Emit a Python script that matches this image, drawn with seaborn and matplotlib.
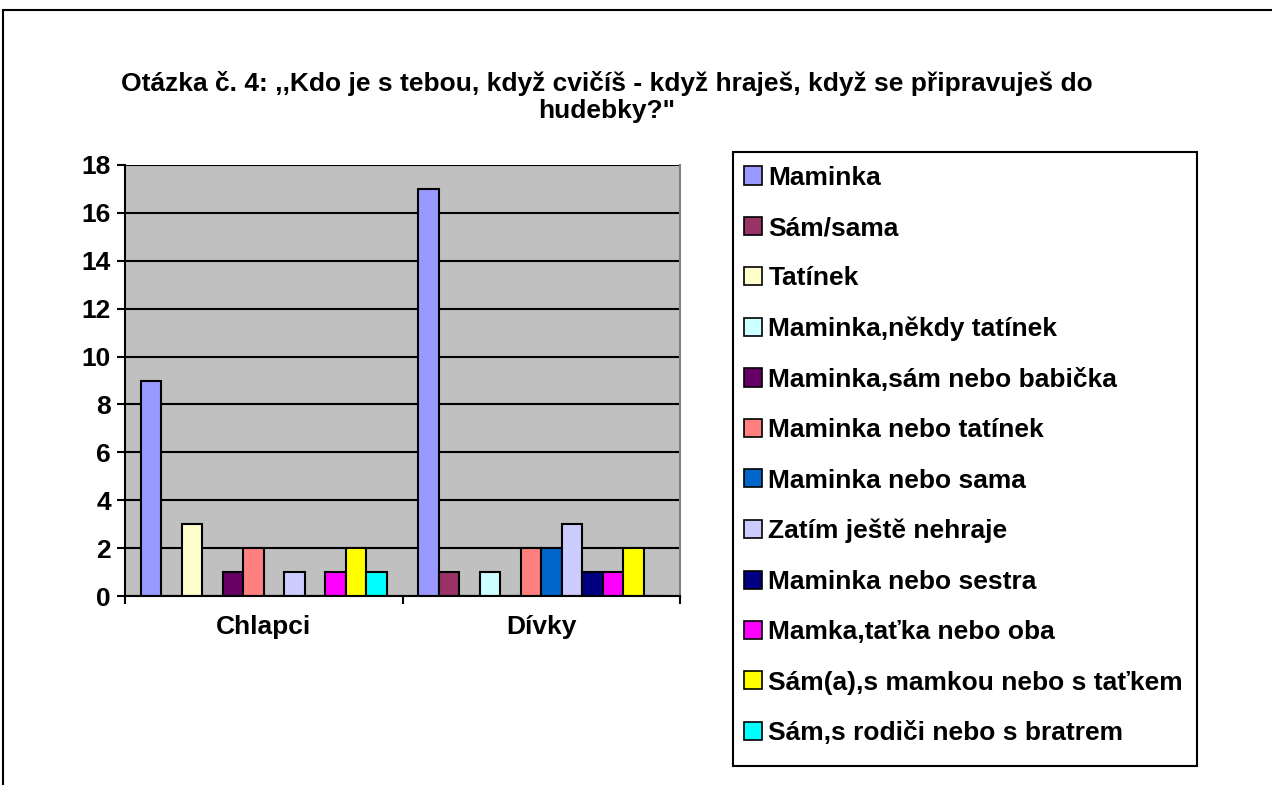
import matplotlib
matplotlib.use("Agg")
import matplotlib.pyplot as plt
import seaborn as sns
import pandas as pd
from matplotlib.patches import Rectangle, Patch

groups = ["Chlapci", "Dívky"]
series = ["Maminka", "Sám/sama", "Tatínek", "Maminka,někdy tatínek",
          "Maminka,sám nebo babička", "Maminka nebo tatínek", "Maminka nebo sama",
          "Zatím ještě nehraje", "Maminka nebo sestra", "Mamka,taťka nebo oba",
          "Sám(a),s mamkou nebo s taťkem", "Sám,s rodiči nebo s bratrem"]
chlapci = [9, 0, 3, 0, 1, 2, 0, 1, 0, 1, 2, 1]
divky = [17, 1, 0, 1, 0, 2, 2, 3, 1, 1, 2, 0]
colors = ["#9999FF", "#993366", "#FFFFCC", "#CCFFFF", "#660066", "#FF8080",
          "#0066CC", "#CCCCFF", "#000080", "#FF00FF", "#FFFF00", "#00FFFF"]
yticks = list(range(0, 19, 2))
title = 'Otázka č. 4: ,,Kdo je s tebou, když cvičíš - když hraješ, když se připravuješ do\nhudebky?"'

rows = []
for s, a, b in zip(series, chlapci, divky):
    rows.append({"skupina": groups[0], "serie": s, "hodnota": a})
    rows.append({"skupina": groups[1], "serie": s, "hodnota": b})
df = pd.DataFrame(rows)

sns.set_theme(style="white")
plt.rcParams['font.family'] = ['Liberation Sans', 'DejaVu Sans']
plt.rcParams['font.weight'] = 'bold'
plt.rcParams['text.color'] = 'black'
plt.rcParams['xtick.color'] = 'black'
plt.rcParams['ytick.color'] = 'black'
plt.rcParams['axes.labelcolor'] = 'black'

FS = 19
W, H = 1272, 785

fig = plt.figure(figsize=(12.72, 7.85), dpi=100)
ax = fig.add_axes([125/W, 1-596/H, (680-125)/W, (596-165)/H])
ax.set_facecolor("#C0C0C0")

sns.barplot(data=df, x="skupina", y="hodnota", hue="serie", order=groups,
            hue_order=series, palette=colors, width=0.885, edgecolor="black",
            linewidth=1.5, ax=ax, legend=False, saturation=1)

ax.set_ylim(0, 18)
ax.set_xlim(-0.5, 1.5)
ax.set_yticks(yticks)
ax.set_yticklabels([str(t) for t in yticks], fontsize=FS, fontweight='bold', color='black')
ax.yaxis.grid(True, color="black", linewidth=1.5)
ax.set_axisbelow(True)
ax.set_xlabel("")
ax.set_ylabel("")
ax.tick_params(axis='y', direction='out', length=6, width=1.5, color='black', left=True, pad=4)
ax.tick_params(axis='x', which='major', length=0, pad=14, labelsize=FS)
for lbl in ax.get_xticklabels():
    lbl.set_fontweight('bold')
    lbl.set_color('black')
ax.set_xticks([-0.5, 0.5, 1.5], minor=True)
ax.tick_params(axis='x', which='minor', direction='out', length=6, width=1.5, color='black', bottom=True)
for side in ["left", "bottom"]:
    ax.spines[side].set_color("black")
    ax.spines[side].set_linewidth(1.5)
ax.spines["top"].set_visible(False)
ax.spines["right"].set_color("#808080")
ax.spines["right"].set_linewidth(1.5)

fig.text(607/W, 1-97/H, title, ha='center', va='center', fontsize=FS,
         fontweight='bold', linespacing=1.15, color='black')

handles = [Patch(facecolor=c, edgecolor='black', linewidth=1.2) for c in colors]
leg = fig.legend(handles, series, loc='upper left', bbox_to_anchor=(730/W, 1-152/H),
                 prop={'size': FS, 'weight': 'bold'}, frameon=False,
                 labelspacing=1.0, handlelength=0.68, handleheight=0.68,
                 handletextpad=0.25, borderpad=0.52, borderaxespad=0)
for t in leg.get_texts():
    t.set_color('black')

fig.patches.append(Rectangle((733/W, 1-766/H), (1197-733)/W, (766-152)/H,
                             transform=fig.transFigure, fill=False,
                             edgecolor='black', linewidth=1.5))
fig.patches.append(Rectangle((3/W, -0.2), 1.2, 1.2 - 10/H,
                             transform=fig.transFigure, fill=False,
                             edgecolor='black', linewidth=1.5))

fig.savefig("out.png", dpi=100)
